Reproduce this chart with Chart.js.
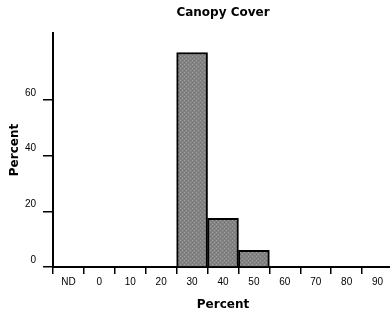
<!DOCTYPE html>
<html>
<head>
<meta charset="utf-8">
<script src="https://cdn.jsdelivr.net/npm/chart.js@4/dist/chart.umd.min.js"></script>
<style>
  html, body { margin: 0; padding: 0; background: #fff; overflow: hidden; }
  #wrap { width: 393px; height: 320px; }
</style>
</head>
<body>
<div id="wrap"><canvas id="canopyChart"></canvas></div>
<script>
// data
const categories = ["ND", "0", "10", "20", "30", "40", "50", "60", "70", "80", "90"];
const percentValues = [0, 0, 0, 0, 77, 17.5, 6, 0, 0, 0, 0];
const yTickValues = [0, 20, 40, 60];

const chartTitle = "Canopy Cover";
const axisTitle = "Percent";

// dotted grey fill like the old stipple
function makePattern() {
    let c = document.createElement("canvas");
    c.width = 4;
    c.height = 4;
    let p = c.getContext("2d");
    p.fillStyle = "#828282";
    p.fillRect(0, 0, 4, 4);
    p.fillStyle = "#a2a2a2";
    p.fillRect(0, 0, 1, 1);
    p.fillRect(2, 2, 1, 1);
    p.fillStyle = "#747474";
    p.fillRect(2, 0, 1, 1);
    p.fillRect(0, 2, 1, 1);
    return p.createPattern(c, "repeat");
}

// title centred over the plot area, not the whole canvas
const titlePlugin = {
    id: "plotTitle",
    afterDraw(chart) {
        let ctx = chart.ctx;
        let area = chart.chartArea;
        ctx.save();
        ctx.font = "bold 12px 'DejaVu Sans', sans-serif";
        ctx.fillStyle = "#000";
        ctx.textAlign = "center";
        ctx.textBaseline = "middle";
        ctx.fillText(chartTitle, (area.left + area.right) / 2, 13);
        ctx.restore();
    }
};

const tickFont = { family: "'Liberation Sans', Arial, sans-serif", size: 10 };
const titleFont = { family: "'DejaVu Sans', sans-serif", size: 12, weight: "bold" };

let ctx1 = document.getElementById("canopyChart").getContext("2d");

new Chart(ctx1, {
    type: "bar",
    data: {
        labels: categories,
        datasets: [{
            data: percentValues,
            backgroundColor: makePattern(),
            borderColor: "#000",
            borderWidth: 2,
            borderSkipped: "bottom",
            barPercentage: 1,
            categoryPercentage: 1
        }]
    },
    options: {
        responsive: true,
        maintainAspectRatio: false,
        animation: false,
        layout: { padding: { top: 33, left: 0, right: 0, bottom: 0 } },
        plugins: {
            legend: { display: false },
            tooltip: { enabled: false },
            title: { display: false }
        },
        scales: {
            x: {
                offset: true,
                grid: {
                    offset: true,
                    drawOnChartArea: false,
                    drawTicks: true,
                    tickLength: 7,
                    color: "#000",
                    lineWidth: 1.5
                },
                border: { display: true, color: "#000", width: 2 },
                ticks: {
                    color: "#000",
                    font: tickFont,
                    padding: 2,
                    maxRotation: 0,
                    autoSkip: false
                },
                title: {
                    display: true,
                    text: axisTitle,
                    color: "#000",
                    font: titleFont,
                    padding: { top: 0, bottom: 8 }
                },
                afterFit(scale) {
                    scale.height = 53;
                }
            },
            y: {
                min: 0,
                max: 84,
                afterBuildTicks(scale) {
                    scale.ticks = yTickValues.map(v => ({ value: v }));
                },
                grid: {
                    drawOnChartArea: false,
                    drawTicks: true,
                    tickLength: 10,
                    color: "#000",
                    lineWidth: 1.5
                },
                border: { display: true, color: "#000", width: 2 },
                ticks: {
                    color: "#000",
                    font: tickFont,
                    padding: 7,
                    labelOffset: -7
                },
                title: {
                    display: true,
                    text: axisTitle,
                    color: "#000",
                    font: titleFont,
                    padding: { top: 8, bottom: 0 }
                },
                afterFit(scale) {
                    scale.width = 53;
                }
            }
        }
    },
    plugins: [titlePlugin]
});
</script>
</body>
</html>
